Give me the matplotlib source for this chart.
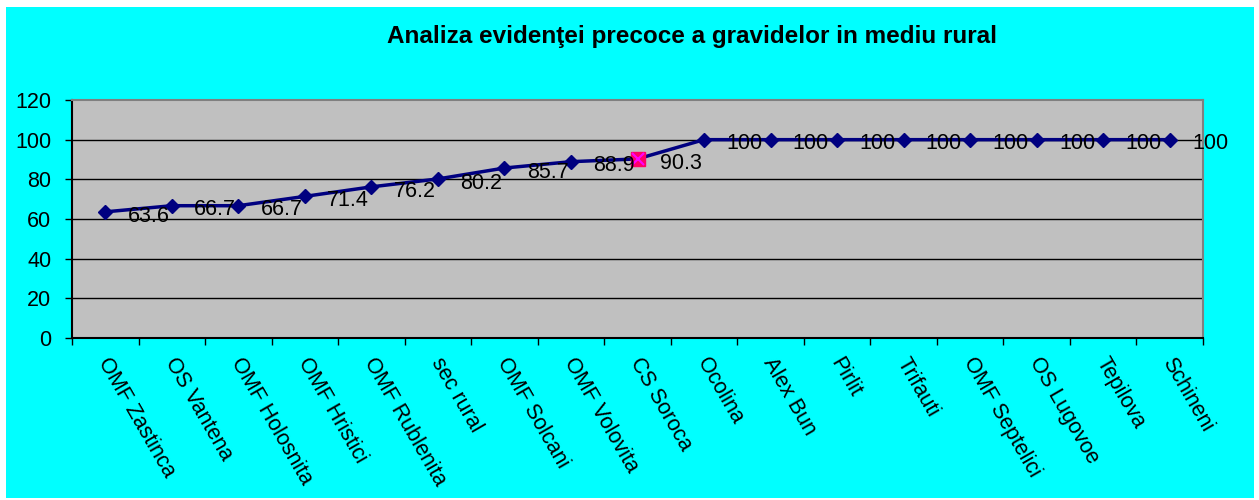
import numpy as np
import matplotlib
matplotlib.use('Agg')
import matplotlib.pyplot as plt
from matplotlib.patches import Rectangle

plt.rcParams['font.family'] = ['Liberation Sans', 'DejaVu Sans']

categories = ['OMF Zastinca', 'OS Vantena', 'OMF Holosnita', 'OMF Hristici', 'OMF Rublenita',
              'sec rural', 'OMF Solcani', 'OMF Volovita', 'CS Soroca', 'Ocolina', 'Alex Bun',
              'Pirlit', 'Trifauti', 'OMF Septelici', 'OS Lugovoe', 'Tepilova', 'Schineni']
values = [63.6, 66.7, 66.7, 71.4, 76.2, 80.2, 85.7, 88.9, 90.3,
          100, 100, 100, 100, 100, 100, 100, 100]
labels = ['63.6', '66.7', '66.7', '71.4', '76.2', '80.2', '85.7', '88.9', '90.3',
          '100', '100', '100', '100', '100', '100', '100', '100']
highlight = 8  # CS Soroca

fig = plt.figure(figsize=(12.59, 5.0), dpi=100, facecolor='white')
fig.patches.append(Rectangle((6/1259, 2/500), 1248/1259, 491/500, transform=fig.transFigure,
                             facecolor='#00FFFF', edgecolor='none', zorder=-10))

ax = fig.add_axes([72/1259, 1 - 338/500, 1131/1259, 238/500])
ax.set_facecolor('#C0C0C0')

x = np.arange(len(categories))
ax.set_xlim(-0.5, len(categories) - 0.5)
ax.set_ylim(0, 120)
ax.set_yticks(range(0, 121, 20))
for yv in range(20, 120, 20):
    ax.axhline(yv, color='black', lw=1, zorder=1)

ax.plot(x, values, color='#000080', lw=2.5, marker='D', markersize=7.5,
        markerfacecolor='#000080', markeredgecolor='#000080', zorder=3)
ax.plot(x[highlight], values[highlight], marker='s', markersize=10, markerfacecolor='#FF0066',
        markeredgecolor='#FF0066', linestyle='none', zorder=4)
ax.plot(x[highlight], values[highlight], marker='x', markersize=8, markeredgecolor='#FF00FF',
        markeredgewidth=1.5, linestyle='none', zorder=5)

for xi, v, t in zip(x, values, labels):
    ax.annotate(t, (xi, v), xytext=(16, -3), textcoords='offset points', ha='left', va='center',
                fontsize=15.5, color='black', zorder=6, annotation_clip=False)

ax.set_xticks(np.arange(-0.5, len(categories), 1))
ax.set_xticklabels([])
ax.tick_params(axis='x', direction='out', length=5, width=1, color='black')
ax.tick_params(axis='y', direction='out', length=5, width=1, color='black', labelsize=15.5, pad=10)

for xi, c in zip(x, categories):
    ax.text(xi + 0.1, -8, c, rotation=-60, rotation_mode='anchor', ha='left', va='top',
            fontsize=15.5, transform=ax.transData, clip_on=False)

ax.spines['left'].set_color('black')
ax.spines['bottom'].set_color('black')
ax.spines['top'].set_color('#808080')
ax.spines['right'].set_color('#808080')
for s in ax.spines.values():
    s.set_linewidth(1.5)

fig.text(692/1259, 1 - 37/500, 'Analiza evidenţei precoce a gravidelor in mediu rural',
         ha='center', va='center', fontsize=17.5, fontweight='bold')

fig.savefig('out.png', dpi=100, facecolor='white')
